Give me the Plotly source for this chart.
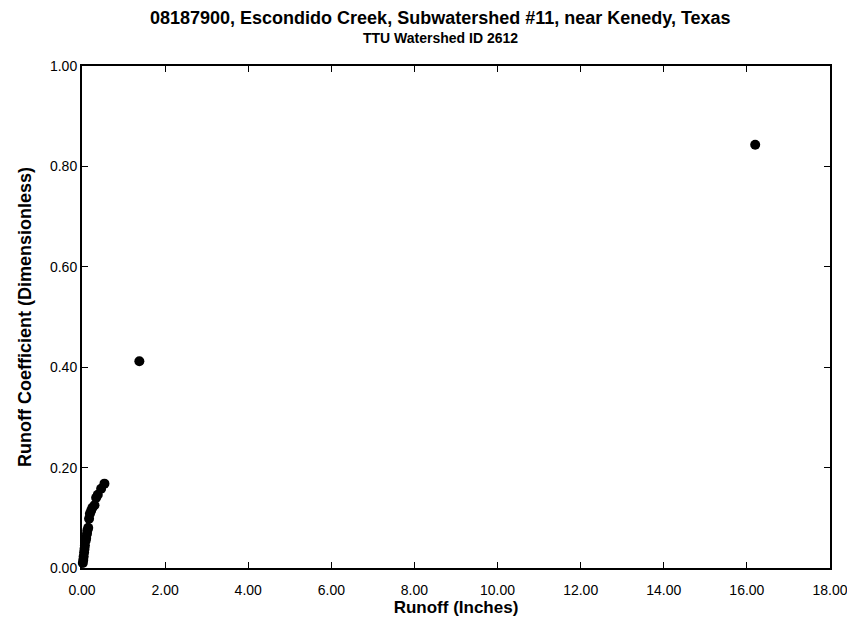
import plotly.graph_objects as go

runoff_in = [0.02, 0.03, 0.04, 0.05, 0.06, 0.07, 0.09, 0.10, 0.12, 0.13, 0.15, 0.17,
             0.19, 0.22, 0.25, 0.30, 0.34, 0.38, 0.46, 0.54, 1.38, 16.2]
runoff_coef = [0.010, 0.016, 0.023, 0.031, 0.038, 0.045, 0.055, 0.060, 0.068, 0.075, 0.080, 0.098,
               0.108, 0.114, 0.120, 0.125, 0.140, 0.146, 0.158, 0.168, 0.412, 0.843]

x_ticks = [0, 2, 4, 6, 8, 10, 12, 14, 16, 18]
y_ticks = [0, 0.2, 0.4, 0.6, 0.8, 1.0]

fig = go.Figure()
fig.add_trace(go.Scatter(
    x=runoff_in, y=runoff_coef, mode="markers",
    marker=dict(color="black", size=10, line=dict(width=0)),
    showlegend=False, cliponaxis=False,
))

font_family = "Liberation Sans, Arial, sans-serif"
fig.update_layout(
    width=847, height=618,
    margin=dict(l=74, r=25, t=58, b=58, autoexpand=False),
    paper_bgcolor="white", plot_bgcolor="white",
    font=dict(family=font_family, color="black", size=14),
)
fig.add_annotation(text="<b>08187900, Escondido Creek, Subwatershed #11, near Kenedy, Texas</b>",
                   xref="paper", yref="paper", x=0.479, y=1.0, yshift=48, showarrow=False,
                   font=dict(size=18, family=font_family), xanchor="center", yanchor="middle")
fig.add_annotation(text="<b>TTU Watershed ID 2612</b>",
                   xref="paper", yref="paper", x=0.479, y=1.0, yshift=28, showarrow=False,
                   font=dict(size=14, family=font_family), xanchor="center", yanchor="middle")

fig.update_xaxes(
    range=[0, 18], tickvals=x_ticks, ticktext=[f"{v:.2f}" for v in x_ticks],
    showline=True, linecolor="black", linewidth=2, mirror="ticks",
    ticks="inside", ticklen=6, tickcolor="black", tickwidth=1,
    showgrid=False, zeroline=False, automargin=False,
    tickfont=dict(size=14), ticklabelstandoff=8,
    title=dict(text="<b>Runoff (Inches)</b>", font=dict(size=17), standoff=0),
)
fig.update_yaxes(
    range=[0, 1.0], tickvals=y_ticks, ticktext=[f"{v:.2f}" for v in y_ticks],
    showline=True, linecolor="black", linewidth=2, mirror="ticks",
    ticks="inside", ticklen=6, tickcolor="black", tickwidth=1,
    showgrid=False, zeroline=False, automargin=False,
    tickfont=dict(size=14),
    title=dict(text="<b>Runoff Coefficient (Dimensionless)</b>", font=dict(size=18), standoff=14),
)

fig.write_html("out.html")
